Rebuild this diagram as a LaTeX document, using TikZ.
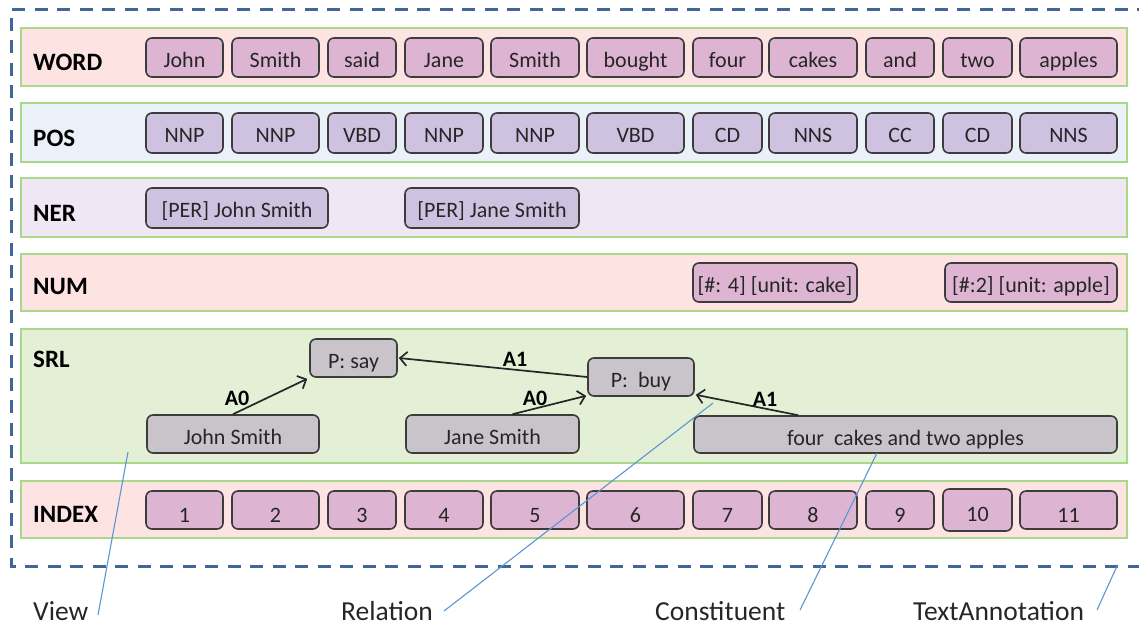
\documentclass[tikz,border=0pt]{standalone}
\usepackage{fontspec}
\setmainfont{Carlito}
\usetikzlibrary{arrows.meta}
\definecolor{bandline}{HTML}{A8D88A}
\definecolor{wordband}{HTML}{FEE3E3}
\definecolor{posband}{HTML}{EBF1F8}
\definecolor{nerband}{HTML}{EFE8F4}
\definecolor{srlband}{HTML}{E3F0D6}
\definecolor{pinkbox}{HTML}{DDB5D3}
\definecolor{lavbox}{HTML}{CFC2E0}
\definecolor{greybox}{HTML}{C9C4C9}
\definecolor{boxline}{HTML}{3C3C3C}
\definecolor{outerblue}{HTML}{41679A}
\definecolor{callout}{HTML}{5A96D2}
\newcommand{\bx}[7]{\node[#1, minimum width={(#4-#3)*1pt}, minimum height={(#6-#5)*1pt}] (#2) at ({(#3+#4)/2},{(#5+#6)/2}) {#7};}
\begin{document}
\begin{tikzpicture}[x=1pt,y=-1pt,
  band/.style={draw=bandline, line width=1.8pt, inner sep=0pt},
  tok/.style={draw=boxline, line width=1.6pt, rounded corners=6pt, inner sep=0pt,
     font=\fontsize{22}{22}\selectfont, text height=19.5pt, text depth=0pt, text=black!85},
  wtok/.style={tok, fill=pinkbox},
  ptok/.style={tok, fill=lavbox},
  stok/.style={tok, fill=greybox, text height=21pt},
  itok/.style={tok, fill=pinkbox, text height=24pt},
  rowlabel/.style={anchor=base west, inner sep=0pt, font=\fontsize{25}{25}\selectfont\bfseries},
  arglabel/.style={anchor=base, inner sep=0pt, font=\fontsize{22}{22}\selectfont\bfseries},
  biglabel/.style={anchor=base west, inner sep=0pt, font=\fontsize{27.5}{27.5}\selectfont, text=black!85},
  rel/.style={line width=1.7pt, draw=black!85, -{Straight Barb[length=7pt,width=14pt,line width=1.7pt]}},
  co/.style={draw=callout, line width=1.1pt}
]
\useasboundingbox (0,0) rectangle (1139,625);
% outer dashed text annotation
\draw[outerblue, line width=3pt, dash pattern=on 13pt off 9.5pt] (1150,9) -- (11,9) -- (11,566) -- (1150,566);
% bands
\bx{band, fill=wordband}{bword}{21}{1127}{28}{86}{}
\bx{band, fill=posband}{bpos}{21}{1127}{103}{162}{}
\bx{band, fill=nerband}{bner}{21}{1127}{178}{237}{}
\bx{band, fill=wordband}{bnum}{21}{1127}{254}{311}{}
\bx{band, fill=srlband}{bsrl}{21}{1127}{329}{463}{}
\bx{band, fill=wordband}{bidx}{21}{1127}{481}{538}{}
% row labels
\node[rowlabel] (lword) at (33,70) {WORD};
\node[rowlabel] (lpos) at (33,146) {POS};
\node[rowlabel] (lner) at (33,221) {NER};
\node[rowlabel] (lnum) at (33,294) {NUM};
\node[rowlabel] (lsrl) at (33,367) {SRL};
\node[rowlabel] (lidx) at (33,522) {INDEX};
% WORD
\bx{wtok}{w1}{146}{223}{38}{77}{John}
\bx{wtok}{w2}{232}{319}{38}{77}{Smith}
\bx{wtok}{w3}{328}{396}{38}{77}{said}
\bx{wtok}{w4}{405}{483}{38}{77}{Jane}
\bx{wtok}{w5}{491}{579}{38}{77}{Smith}
\bx{wtok}{w6}{587}{684}{38}{77}{bought}
\bx{wtok}{w7}{693}{762}{38}{77}{four}
\bx{wtok}{w8}{769}{857}{38}{77}{cakes}
\bx{wtok}{w9}{866}{934}{38}{77}{and}
\bx{wtok}{w10}{943}{1012}{38}{77}{two}
\bx{wtok}{w11}{1020}{1117}{38}{77}{apples}
% POS
\bx{ptok}{p1}{146}{223}{113}{153}{NNP}
\bx{ptok}{p2}{232}{319}{113}{153}{NNP}
\bx{ptok}{p3}{328}{396}{113}{153}{VBD}
\bx{ptok}{p4}{405}{483}{113}{153}{NNP}
\bx{ptok}{p5}{491}{579}{113}{153}{NNP}
\bx{ptok}{p6}{587}{684}{113}{153}{VBD}
\bx{ptok}{p7}{693}{762}{113}{153}{CD}
\bx{ptok}{p8}{769}{857}{113}{153}{NNS}
\bx{ptok}{p9}{866}{934}{113}{153}{CC}
\bx{ptok}{p10}{943}{1012}{113}{153}{CD}
\bx{ptok}{p11}{1020}{1117}{113}{153}{NNS}
% NER
\bx{ptok}{n1}{146}{328}{188}{228}{[PER] John Smith}
\bx{ptok}{n2}{405}{579}{188}{228}{[PER] Jane Smith}
% NUM
\bx{wtok}{m1}{693}{857}{263}{302}{[\#: 4] [unit: cake]}
\bx{wtok}{m2}{945}{1117}{263}{302}{[\#:2] [unit: apple]}
% SRL
\bx{stok}{psay}{310}{397}{339}{377}{P: say}
\bx{stok}{pbuy}{588}{694}{358}{396}{P:\ \ buy}
\bx{stok}{s1}{147}{319}{415}{453}{John Smith}
\bx{stok}{s2}{406}{579}{415}{453}{Jane Smith}
\bx{stok}{s3}{694}{1117}{416}{453}{four\ \ cakes and two apples}
\draw[rel] (s1.north) -- ([xshift=-2pt,yshift=-1pt]psay.south west);
\draw[rel] ([xshift=20pt]s2.north) -- ([xshift=-1pt,yshift=1pt]pbuy.south west);
\draw[rel] (pbuy.west) -- ([xshift=1pt,yshift=0pt]psay.east);
\draw[rel] ([xshift=105pt]s3.north west) -- ([xshift=1pt,yshift=2pt]pbuy.south east);
\node[arglabel] (a0a) at (237,405) {A0};
\node[arglabel] (a0b) at (535,405) {A0};
\node[arglabel] (a1a) at (515,366) {A1};
\node[arglabel] (a1b) at (765,406) {A1};
% INDEX
\bx{itok}{i1}{146}{223}{491}{529}{1}
\bx{itok}{i2}{232}{319}{491}{529}{2}
\bx{itok}{i3}{328}{396}{491}{529}{3}
\bx{itok}{i4}{405}{483}{491}{529}{4}
\bx{itok}{i5}{491}{579}{491}{529}{5}
\bx{itok}{i6}{587}{684}{491}{529}{6}
\bx{itok}{i7}{693}{762}{491}{529}{7}
\bx{itok}{i8}{769}{857}{491}{529}{8}
\bx{itok}{i9}{866}{934}{491}{529}{9}
\bx{itok, text height=22pt}{i10}{943}{1012}{489}{531}{10}
\bx{itok}{i11}{1020}{1117}{491}{529}{11}
% bottom labels and callouts
\node[biglabel] (tview) at (33,620) {View};
\node[biglabel] (trel) at (341,620) {Relation};
\node[biglabel] (tcon) at (655,620) {Constituent};
\node[biglabel] (tta) at (913,620) {TextAnnotation};
\coordinate (cview1) at (128,452);
\coordinate (cview2) at (98,615);
\coordinate (crel1) at (713,403);
\coordinate (crel2) at (444,611);
\coordinate (ccon1) at (877,453);
\coordinate (ccon2) at (800,610);
\coordinate (cta1) at (1117,566);
\coordinate (cta2) at (1097,610);
\draw[co] (cview1) -- (cview2);
\draw[co] (crel1) -- (crel2);
\draw[co] (ccon1) -- (ccon2);
\draw[co] (cta1) -- (cta2);
\end{tikzpicture}
\end{document}
